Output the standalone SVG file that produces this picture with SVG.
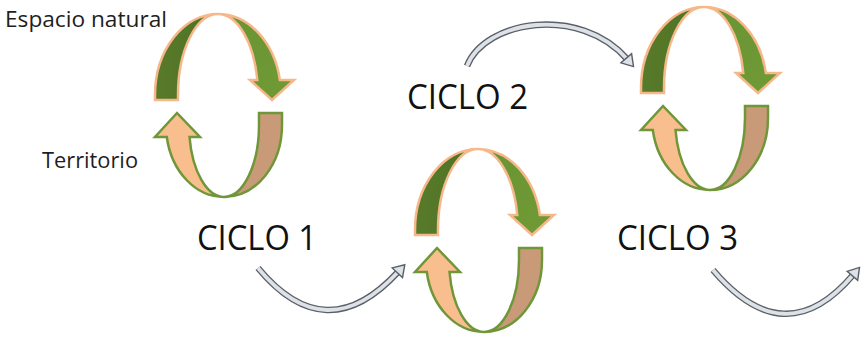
<svg xmlns="http://www.w3.org/2000/svg" width="863" height="339" viewBox="0 0 863 339">
<defs>
<style>
.txt{font-family:"Open Sans","Liberation Sans",Arial,sans-serif;fill:#111}
.small{font-size:21px;fill:#1e1e1e}
.big{font-size:34px}
.topL{fill:url(#gTopL);stroke:#f6b88a;stroke-width:2.5;stroke-linejoin:miter}
.topR{fill:url(#gTopR);stroke:#f6b88a;stroke-width:2.5;stroke-linejoin:miter}
.botL{fill:#f9be8e;stroke:#6f9739;stroke-width:2.5;stroke-linejoin:miter}
.botR{fill:#c99a78;stroke:#6f9739;stroke-width:2.5;stroke-linejoin:miter}
.cOut{fill:none;stroke:#5b5f66;stroke-width:6.5}
.cIn{fill:none;stroke:#dde1e8;stroke-width:3.8}
.cHead{fill:#dde1e8;stroke:#5b5f66;stroke-width:1.4;stroke-linejoin:miter}
</style>
<linearGradient id="gTopL" x1="0" y1="0" x2="1" y2="0">
<stop offset="0" stop-color="#587b2a"/><stop offset="1" stop-color="#4f7024"/>
</linearGradient>
<linearGradient id="gTopR" x1="0" y1="0" x2="1" y2="1">
<stop offset="0" stop-color="#6a9434"/><stop offset="1" stop-color="#6f9a35"/>
</linearGradient>
<g id="cycle">
<path class="topL" d="M155,100 L155,95 A63,81 0 0 1 218,14 A40,81 0 0 0 178,95 L178,100 Z"/>
<path class="topR" d="M218,14 A63,81 0 0 1 279.9,80 L294,80 L272,100 L250,80 L257.3,80 A40,81 0 0 0 218,14 Z"/>
<path class="botR" d="M282,113 L282,125 A58,72 0 0 1 224,197 A35,72 0 0 0 259,125 L259,113 Z"/>
<path class="botL" d="M224,197 A58,72 0 0 1 166.8,137 L155,137 L177,113 L200,137 L189.5,137 A35,72 0 0 0 224,197 Z"/>
</g>
</defs>
<rect width="863" height="339" fill="#ffffff"/>
<g id="connectors">
<g id="conn1">
<path class="cOut" d="M258,268 Q326,350 398,272"/>
<path class="cIn" d="M258,268 Q326,350 398,272"/>
<polygon class="cHead" points="392.2,267.9 404.8,264.7 402.5,277.5"/>
</g>
<g id="conn2">
<path class="cOut" d="M467,66 C485,20 580,5 627,59"/>
<path class="cIn" d="M467,66 C485,20 580,5 627,59"/>
<polygon class="cHead" points="621,62.8 633.5,66.6 631.6,53.6"/>
</g>
<g id="conn3">
<path class="cOut" d="M713,270 Q785,355 853,275"/>
<path class="cIn" d="M713,270 Q785,355 853,275"/>
<polygon class="cHead" points="847.1,271.3 859.5,267.4 857.7,280.3"/>
</g>
</g>
<g id="ciclo1">
<use href="#cycle"/>
<text class="txt small" x="5" y="27" textLength="162" lengthAdjust="spacingAndGlyphs">Espacio natural</text>
<text class="txt small" x="42" y="168" textLength="96" lengthAdjust="spacingAndGlyphs">Territorio</text>
<text class="txt big" x="197" y="250" textLength="120" lengthAdjust="spacingAndGlyphs">CICLO 1</text>
</g>
<g id="ciclo2">
<use href="#cycle" transform="translate(260,135)"/>
<text class="txt big" x="407" y="109" textLength="121" lengthAdjust="spacingAndGlyphs">CICLO 2</text>
</g>
<g id="ciclo3">
<use href="#cycle" transform="translate(486,-7)"/>
<text class="txt big" x="617" y="250" textLength="121" lengthAdjust="spacingAndGlyphs">CICLO 3</text>
</g>
</svg>
